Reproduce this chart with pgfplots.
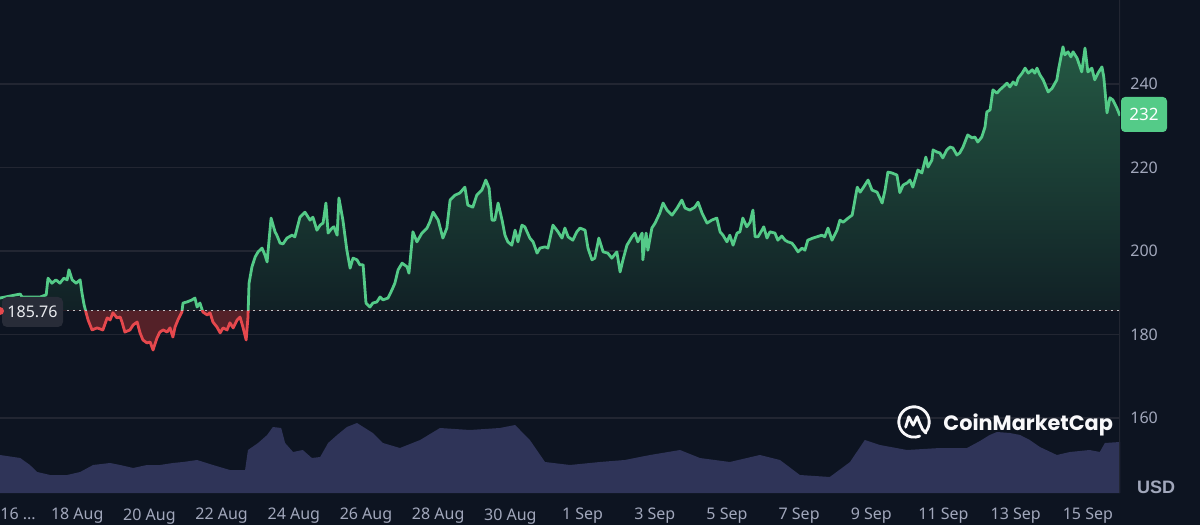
\documentclass[border=0pt]{standalone}
\usepackage{fontspec}
\setmainfont{Noto Sans}
\newfontfamily\logofont{Poppins}
\newfontfamily\usdfont{Liberation Sans}
\usepackage{pgfplots}
\pgfplotsset{compat=1.18}
\usepackage{pgfplotstable}

\definecolor{bg}{RGB}{13,20,33}
\definecolor{gridc}{RGB}{34,38,50}
\definecolor{tickc}{RGB}{161,167,187}
\definecolor{up}{RGB}{84,203,136}
\definecolor{down}{RGB}{229,72,77}
\definecolor{volc}{RGB}{47,52,88}
\definecolor{gtop}{RGB}{36,88,67}
\definecolor{gbot}{RGB}{14,24,33}
\definecolor{rfill}{RGB}{84,33,40}
\definecolor{boxc}{RGB}{40,44,56}

% price, days since 16 Aug 00:00
\pgfplotstableread{
d v
-0.14 188.75
0.42 189.7
0.47 189.0
0.69 189.0
0.97 189.0
1.14 189.5
1.19 193.5
1.30 192.3
1.41 193.1
1.52 192.3
1.63 193.5
1.72 193.1
1.77 195.5
1.86 193.1
1.97 192.3
2.08 193.1
2.13 190.0
2.19 187.1
2.24 185.4
2.30 183.5
2.41 181.1
2.55 181.6
2.71 181.1
2.83 184.0
2.91 183.5
2.99 185.2
3.10 184.0
3.19 184.2
3.24 183.0
3.32 180.6
3.46 181.1
3.55 182.3
3.66 183.0
3.74 180.4
3.82 178.7
3.93 178.0
4.02 178.2
4.10 176.3
4.21 179.2
4.29 180.6
4.38 181.1
4.49 180.6
4.57 181.6
4.65 179.4
4.71 181.8
4.79 183.5
4.90 185.4
4.93 187.55
5.04 187.8
5.18 188.3
5.26 188.75
5.32 186.6
5.40 187.55
5.48 185.4
5.60 184.7
5.68 185.2
5.76 183.0
5.87 181.8
5.96 180.4
6.04 181.6
6.15 181.1
6.23 182.8
6.32 181.6
6.43 183.5
6.51 184.2
6.59 181.8
6.68 178.7
6.73 184.2
6.76 192.3
6.84 196.2
6.93 198.6
7.01 199.8
7.12 200.7
7.20 199.05
7.26 197.4
7.37 207.9
7.48 204.6
7.53 203.8
7.62 201.9
7.70 201.7
7.81 203.1
7.95 203.8
8.03 203.4
8.17 208.1
8.31 209.3
8.45 207.4
8.53 208.1
8.64 205.0
8.73 206.2
8.81 206.7
8.89 211.5
8.95 204.3
9.06 205.5
9.11 205.8
9.20 203.8
9.25 212.7
9.36 207.4
9.47 200.2
9.56 195.9
9.64 198.3
9.75 197.9
9.83 196.7
9.92 196.7
10.00 187.55
10.11 186.6
10.19 187.55
10.30 187.8
10.39 189.0
10.47 188.3
10.61 188.75
10.72 190.7
10.80 192.3
10.89 195.5
11.00 197.1
11.14 196.2
11.19 194.7
11.30 204.6
11.41 202.2
11.55 204.3
11.69 205.5
11.77 207.0
11.86 209.3
12.00 207.4
12.13 203.1
12.24 205.5
12.33 212.2
12.47 213.4
12.60 213.9
12.74 215.3
12.82 211.0
12.96 210.5
13.07 213.4
13.21 214.6
13.32 217.0
13.41 215.1
13.49 207.4
13.57 207.4
13.66 211.5
13.77 207.4
13.85 203.8
13.93 202.2
14.04 201.4
14.13 205.0
14.21 202.2
14.32 206.2
14.40 205.8
14.54 203.1
14.63 202.2
14.74 199.5
14.82 200.7
14.96 201.0
15.04 200.7
15.18 206.2
15.32 204.6
15.43 203.1
15.51 205.5
15.60 203.4
15.73 202.6
15.84 204.6
15.93 205.5
16.07 205.0
16.15 200.7
16.26 197.9
16.34 198.3
16.45 203.1
16.57 199.8
16.70 199.5
16.81 198.3
16.95 199.8
17.04 195.0
17.12 197.9
17.23 201.4
17.37 203.4
17.45 204.3
17.53 202.2
17.65 204.3
17.67 197.9
17.76 204.3
17.81 200.2
17.92 205.5
18.01 206.7
18.14 209.1
18.23 211.5
18.34 209.8
18.48 208.6
18.62 210.3
18.75 212.2
18.84 210.3
18.97 209.8
19.11 210.5
19.20 211.7
19.31 209.1
19.45 206.7
19.58 207.4
19.72 207.9
19.81 204.6
19.89 203.8
20.00 202.2
20.08 203.8
20.17 201.4
20.28 204.3
20.36 204.6
20.44 207.9
20.55 205.8
20.64 206.9
20.72 209.8
20.78 203.4
20.86 203.4
20.97 205.0
21.02 205.8
21.11 203.1
21.19 204.6
21.33 204.3
21.41 202.6
21.52 203.6
21.61 202.6
21.69 202.2
21.80 201.9
21.88 201.0
21.97 199.8
22.08 200.7
22.16 200.2
22.24 202.6
22.38 203.1
22.49 203.4
22.63 203.8
22.71 203.4
22.80 205.5
22.91 202.6
23.05 205.0
23.13 207.4
23.22 206.9
23.36 207.9
23.47 208.6
23.61 215.3
23.69 214.1
23.77 215.1
23.91 217.0
24.02 214.6
24.16 214.1
24.30 211.5
24.38 214.6
24.46 218.9
24.57 218.7
24.71 218.2
24.79 214.0
24.88 215.8
24.99 216.3
25.07 217.0
25.15 215.3
25.29 219.4
25.40 218.7
25.51 222.5
25.57 220.1
25.68 221.8
25.71 224.2
25.82 223.7
25.90 223.5
25.98 222.3
26.09 224.2
26.18 224.9
26.26 224.7
26.37 223.0
26.45 223.5
26.54 224.9
26.67 227.8
26.79 227.1
26.87 227.3
26.95 226.1
27.06 227.3
27.15 229.7
27.20 233.3
27.29 233.8
27.37 238.6
27.48 237.8
27.56 238.6
27.65 239.3
27.76 240.2
27.84 239.3
27.93 240.5
28.01 239.8
28.07 241.4
28.18 242.6
28.26 243.8
28.35 242.6
28.46 243.4
28.53 242.6
28.59 243.8
28.67 242.2
28.76 241.0
28.90 238.1
29.01 239.0
29.14 241.0
29.20 244.1
29.31 248.9
29.36 247.0
29.45 247.7
29.53 246.5
29.59 247.7
29.70 246.2
29.83 242.9
29.92 248.6
30.00 242.9
30.11 243.8
30.19 241.0
30.28 242.6
30.39 244.1
30.44 241.7
30.53 233.1
30.61 236.7
30.69 236.2
30.80 234.3
30.89 232.4
}\price

% volume, relative height
\pgfplotstableread{
d h
-0.14 38
0.42 35
0.69 28
0.89 21
1.25 18
1.72 18
2.08 21
2.44 28
2.91 30
3.19 28
3.55 25
3.93 28
4.29 28
4.65 30
4.93 31
5.32 33
5.76 28
6.23 23
6.65 23
6.73 43
7.01 50
7.26 58
7.42 66
7.65 65
7.76 50
7.98 41
8.25 43
8.50 35
8.73 36
8.95 50
9.20 58
9.47 66
9.75 70
9.97 65
10.19 60
10.47 50
10.94 45
11.50 53
12.05 65
12.88 63
13.71 65
14.13 68
14.54 53
14.96 31
15.65 28
16.48 31
17.17 33
17.87 38
18.70 43
19.25 35
20.08 31
20.91 38
21.47 33
22.02 18
22.85 16
23.41 31
23.82 53
24.24 48
24.99 43
25.90 45
26.65 45
27.01 52
27.28 58
27.48 61
27.84 60
28.12 58
28.39 53
28.67 46
29.14 38
29.50 41
30.05 43
30.33 41
30.47 50
30.89 51
}\volume

\pgfplotsset{
  panel/.style={anchor=south west, scale only axis, width=560pt,
    xmin=-0.14, xmax=30.89},
}

\begin{document}
\begin{tikzpicture}
\path[use as bounding box] (0,-16pt) rectangle (600pt,246.5pt);
\fill[bg] (0,-16pt) rectangle (600pt,246.5pt);

% volume
\begin{axis}[panel, at={(0,0)}, height=246.5pt, ymin=0, ymax=493, hide axis]
\addplot[fill=volc, draw=none] table[x=d, y=h] {\volume} \closedcycle;
\end{axis}

% grid, ticks, labels
\begin{axis}[panel, at={(0,0)}, height=246.5pt,
  ymin=142.05, ymax=260.12,
  axis line style={draw=none},
  major tick length=0pt,
  ytick={160,180,200,220,240}, yticklabel pos=right,
  xtick={2,4,...,30},
  xticklabels={18 Aug,20 Aug,22 Aug,24 Aug,26 Aug,28 Aug,30 Aug,1 Sep,3 Sep,5 Sep,7 Sep,9 Sep,11 Sep,13 Sep,15 Sep},
  ymajorgrids, grid style={gridc, line width=0.6pt},
  tick label style={font=\fontsize{8}{9.6}\selectfont, text=tickc, inner sep=0pt},
  xticklabel style={anchor=north, yshift=-7.5pt},
  yticklabel style={anchor=west, xshift=5pt},
  /pgf/number format/assume math mode=true,
]
\draw[gridc, line width=0.8pt] (rel axis cs:1,0) -- (rel axis cs:1,1);
\end{axis}

% price above the 185.76 open (offset from it)
\begin{axis}[panel, at={(0,91.25pt)}, height=155.25pt, ymin=0, ymax=74.36, hide axis]
\addplot[draw=none, top color=gtop, bottom color=gbot]
  table[x=d, y expr=\thisrow{v}-185.76] {\price} \closedcycle;
\addplot[up, line width=1.4pt, line join=round]
  table[x=d, y expr=\thisrow{v}-185.76] {\price};
\end{axis}

% price below the open
\begin{axis}[panel, at={(0,0)}, height=91.25pt, ymin=-43.71, ymax=0, hide axis]
\addplot[draw=none, fill=rfill]
  table[x=d, y expr=\thisrow{v}-185.76] {\price} \closedcycle;
\addplot[down, line width=1.4pt, line join=round]
  table[x=d, y expr=\thisrow{v}-185.76] {\price};
\end{axis}

\draw[white!75!bg, line width=0.8pt, dash pattern=on 0.8pt off 2.2pt]
  (33.5pt,91.25pt) -- (560pt,91.25pt);

% labels
\node[anchor=north west, inner sep=0pt, font=\fontsize{8}{9.6}\selectfont, text=tickc]
  at (0,-7.5pt) {16 ...};
\node[anchor=base, inner sep=0pt, font=\usdfont\bfseries\fontsize{9}{11}\selectfont, text=tickc]
  at (578pt,0pt) {USD};
\node[fill=up, rounded corners=2pt, minimum width=23pt, minimum height=17.5pt,
  inner sep=0pt, text=white, font=\fontsize{8.5}{10}\selectfont] at (572pt,189.25pt) {232};
\node[fill=boxc, rounded corners=2.5pt, minimum width=30.5pt, minimum height=15pt,
  inner sep=0pt, text=white!78!tickc, font=\fontsize{8}{9.6}\selectfont] at (16.25pt,90.5pt) {185.76};
\fill[down] (0,91pt) circle (2pt);

% logo
\begin{scope}[shift={(457pt,35.5pt)}, white!92!tickc, line width=1.4pt, line cap=round, line join=round]
  \draw (-40:7.6pt) arc[start angle=-40, end angle=292, radius=7.6pt];
  \draw (-4.2pt,-2.6pt) -- (-2.6pt,2.6pt) -- (-0.4pt,-1.6pt) -- (1.6pt,2.6pt) -- (3.2pt,-1.4pt)
        .. controls (3.8pt,-3pt) and (4.6pt,-4.6pt) .. (6pt,-5.6pt);
\end{scope}
\node[anchor=base west, inner sep=0pt, text=white!92!tickc,
  font=\logofont\bfseries\fontsize{10.4}{12}\selectfont] at (471.5pt,31pt) {CoinMarketCap};
\end{tikzpicture}
\end{document}
